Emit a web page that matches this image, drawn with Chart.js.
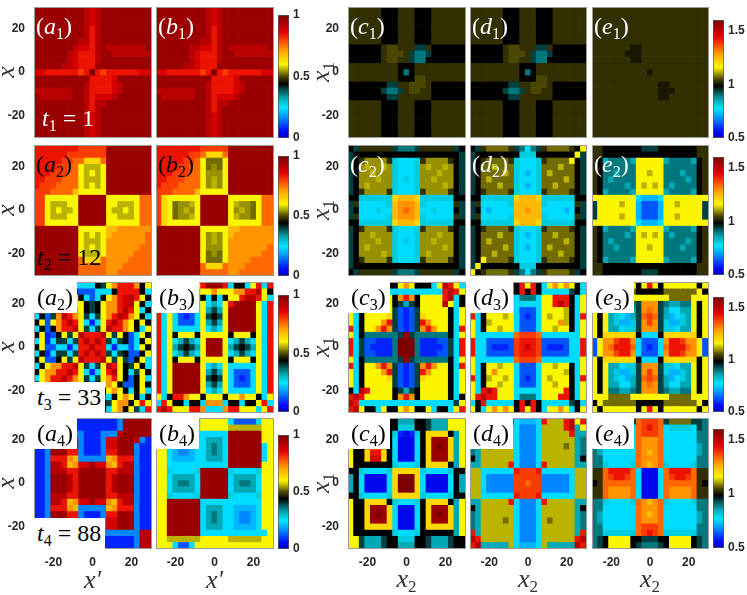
<!DOCTYPE html>
<html>
<head>
<meta charset="utf-8">
<title>Density panels</title>
<script src="https://cdn.jsdelivr.net/npm/chart.js@4.4.1/dist/chart.umd.min.js"></script>
<style>
  body { margin: 0; background: #fff; }
  #fig { position: relative; width: 747px; height: 595px; overflow: hidden; }
  #fig canvas { position: absolute; }
  .frame { position: absolute; border: 1px solid #9b9b9b; box-sizing: border-box; }
  .tag { position: absolute; font-family: "Liberation Serif", "DejaVu Serif", serif; font-size: 24px; line-height: 27px; white-space: nowrap; }
  .tag i { font-style: italic; }
  .tag sub { font-size: 16px; vertical-align: -5px; line-height: 0; }
  .boxed { background: #fff; padding: 2px 4px 2px 3px; }
  .ttl { position: absolute; font-family: "Liberation Serif", "DejaVu Serif", serif; font-style: italic; font-size: 26px; color: #333; white-space: nowrap; transform: translate(-50%, -50%); }
  .ttl.rot { transform: translate(-50%, -50%) rotate(-90deg); }
  .ttl sub { font-size: 17px; font-style: normal; vertical-align: -5px; line-height: 0; }
</style>
</head>
<body>
<div id="fig"></div>
<script>
// colour bar ranges and ticks
const leftRange = [0, 1];
const rightRange = [0.5, 1.6];
const leftBarTicks = [0, 0.5, 1];
const rightBarTicks = [0.5, 1, 1.5];
const axisTicks = [-20, 0, 20];
const xSpan = [-30, 30];

// one string per grid row (top row first), one letter per cell:
// 'a' = bottom of the colour range ... 'z' = top, capital = half a step above; '|' only groups columns
const a1 = [
  "yyyyyyyyyxwxyyyyyyyyy", "yyyyyyyyyxwxyyyyyyyyy", "yyyyyyyyyxwxyyyyyyyyy", "yyyyyyyyyxvxyyyyyyyyy",
  "yyyyyyyyyxvxyyyyyyyyy", "yyyyyyyyxxvxyyyyyyyyy", "yyyyyyyxwwvxyxxxxxxxy", "yyyyyyxwvvvxyyxxxxxxx",
  "yyyyyyxwvvvxyyyyyyyyy", "yyyyyxxwvvvyyyyyyyyyy", "wwvvvvvvuvzvuvvvvvvww", "yyyyyyyyyyvvvvwyyyyyy",
  "yyyyyyyyyxvvvvwxyyyyy", "xxxxxxxyyxvvvvwxyyyyy", "yxxxxxxyyxvwwwxyyyyyy", "yyyyyyyyyxvxxyyyyyyyy",
  "yyyyyyyyyxvxyyyyyyyyy", "yyyyyyyyyxwxyyyyyyyyy", "yyyyyyyyyxwxyyyyyyyyy", "yyyyyyyyyxwxyyyyyyyyy",
  "yyyyyyyyyxwxyyyyyyyyy"
];
const b1 = [
  "yyyyyyyyyxwxyyyyyyyyy", "yyyyyyyyyxwxyyyyyyyyy", "yyyyyyyyyxwxyyyyyyyyy", "yyyyyyyyyxvxyyyyyyyyy",
  "yyyyyyyyyxvxyyyyyyyyy", "yyyyyyyyxxvxyyyyyyyyy", "yyyyyyxxwwvxyxxxxxxxy", "yyyyyyxwvvvxyyxxxxxxx",
  "yyyyyyxwvvvxyyyyyyyyy", "yyyyyxxwvvvyyyyyyyyyy", "wwvvvvvvuvzvuvvvvvvww", "yyyyyyyyyyvvvvwyyyyyy",
  "yyyyyyyyyxvvvvwxyyyyy", "xxxxxxxyyxvvvvwxyyyyy", "yxxxxxxyyxvwwwxyyyyyy", "yyyyyyyyyxvxxyyyyyyyy",
  "yyyyyyyyyxvxyyyyyyyyy", "yyyyyyyyyxwxyyyyyyyyy", "yyyyyyyyyxwxyyyyyyyyy", "yyyyyyyyyxwxyyyyyyyyy",
  "yyyyyyyyyxwxyyyyyyyyy"
];
const c1 = [
  "mmmmmmlllmmmlllmmmmmm", "mmmmmmlllmmmlllmmmmmm", "mmmmmmlllmmmlllmmmmmm", "mmmmmmlllmmmlllmmmmmm",
  "mmmmmmlllmmmlllmmmmmm", "mmmmmmlllmmmlllmmmmmm", "llllllmMMmmmkkmllllll", "llllllmMMMmkjjkllllll",
  "llllllmMMmmkjjlllllll", "mmmmmmmmmlllmmmmmmmmm", "mmmmmmmmmljlmmmmmmmmm", "mmmmmmmmmlllMMmmmmmmm",
  "lllllllkkmmMMMmllllll", "llllllkjjkmMMmmllllll", "lllllllkkmmmmmmllllll", "mmmmmmlllmmmlllmmmmmm",
  "mmmmmmlllmmmlllmmmmmm", "mmmmmmlllmmmlllmmmmmm", "mmmmmmlllmmmlllmmmmmm", "mmmmmmlllmmmlllmmmmmm",
  "mmmmmmlllmmmlllmmmmmm"
];
const d1 = [
  "mmmmmmlllmmmlllmmmmmm", "mmmmmmlllmmmlllmmmmmm", "mmmmmmlllmmmlllmmmmmm", "mmmmmmlllmmmlllmmmmmm",
  "mmmmmmlllmmmlllmmmmmm", "mmmmmmlllmmmlllmmmmmm", "llllllmMMmmmkkmllllll", "llllllmMMMmkjjkllllll",
  "llllllmMMmmkjjlllllll", "mmmmmmmmmlllmmmmmmmmm", "mmmmmmmmmljlmmmmmmmmm", "mmmmmmmmmlllMMmmmmmmm",
  "lllllllkkmmMMMmllllll", "llllllkjjkmMMmmllllll", "lllllllkkmmmmmmllllll", "mmmmmmlllmmmlllmmmmmm",
  "mmmmmmlllmmmlllmmmmmm", "mmmmmmlllmmmlllmmmmmm", "mmmmmmlllmmmlllmmmmmm", "mmmmmmlllmmmlllmmmmmm",
  "mmmmmmlllmmmlllmmmmmm"
];
const e1 = [
  "mmmmmmmmmmmmmmmmmmmmm", "mmmmmmmmmmmmmmmmmmmmm", "mmmmmmmmmmmmmmmmmmmmm", "mmmmmmmmmmmmmmmmmmmmm",
  "mmmmmmmmmmmmmmmmmmmmm", "mmmmmmmmmmmmmmmmmmmmm", "mmmmmmmLLmmmmmmmmmmmm", "mmmmmmLLLmmmmmmmmmmmm",
  "mmmmmmmLLmmmmmmmmmmmm", "mmmmmmmmmmmmmmmmmmmmm", "mmmmmmmmmmLmmmmmmmmmm", "mmmmmmmmmmmmmmmmmmmmm",
  "mmmmmmmmmmmmLLmmmmmmm", "mmmmmmmmmmmmLLLmmmmmm", "mmmmmmmmmmmmLLmmmmmmm", "mmmmmmmmmmmmmmmmmmmmm",
  "mmmmmmmmmmmmmmmmmmmmm", "mmmmmmmmmmmmmmmmmmmmm", "mmmmmmmmmmmmmmmmmmmmm", "mmmmmmmmmmmmmmmmmmmmm",
  "mmmmmmmmmmmmmmmmmmmmm"
];

const a2 = [
  "vvvvvvvv|uuuuu|yyyyyyyy", "vvvvvvuu|uuuuu|yyyyyyyy", "vvvvvuut|tqqqt|yyyyyyyy", "vvvvuutt|pooop|yyyyyyyy",
  "vvvuuutt|popop|yyyyyyyy", "vvuuuttt|pooop|yyyyyyyy", "vuuutttt|popop|yyyyyyyy", "uuuttttr|ppppp|yyyyyyyy",
  "uu|pppppp|yyyyy|pppppp|tt", "uu|pooopp|yyyyy|ppooop|tt", "uu|popoop|yyyyy|poopop|tt", "uu|pooopp|yyyyy|ppooop|tt",
  "uu|pppppp|yyyyy|pppppp|tt", "yyyyyyyy|ppppp|rrssssss", "yyyyyyyy|popop|rsssssst", "yyyyyyyy|pooop|ssssssst",
  "yyyyyyyy|popop|sssssstt", "yyyyyyyy|pooop|sssssttt", "yyyyyyyy|tqqqt|sssstttt", "yyyyyyyy|ttttt|sssttttt",
  "yyyyyyyy|ttttt|sstttttt"
];
const b2 = [
  "vvvvvvvv|uuuuu|yyyyyyyy", "vvvvvvuu|tqqqt|yyyyyyyy", "vvvvvuut|pnnnp|yyyyyyyy", "vvvvuutt|pnNnp|yyyyyyyy",
  "vvvuuutt|pNNNp|yyyyyyyy", "vvuuuttt|pNoNp|yyyyyyyy", "vuuutttt|pNoNp|yyyyyyyy", "uuuttttr|ppppp|yyyyyyyy",
  "uq|pppppp|yyyyy|pppppp|tt", "uq|pnNNop|yyyyy|poNNnp|tt", "uq|pnNoNp|yyyyy|pNoNnp|tt", "uq|pnNNop|yyyyy|poNNnp|tt",
  "uq|pppppp|yyyyy|pppppp|tt", "yyyyyyyy|ppppp|rrssssss", "yyyyyyyy|pNoNp|rsssssss", "yyyyyyyy|pNoNp|ssssssss",
  "yyyyyyyy|pNNNp|ssssssst", "yyyyyyyy|pnNnp|sssssstt", "yyyyyyyy|pnnnp|sssstttt", "yyyyyyyy|tqqqt|sssttttt",
  "yyyyyyyy|ttttt|sstttttt"
];
const c2 = [
  "lk|mmmmmm|kjjjk|mmmmmm|kl", "kl|llllll|lllll|llllll|lk", "kl|mNNNNm|hgggh|mNNNNm|lk", "kl|NoNNoN|hgggh|NoNNoN|lk",
  "kl|NNoNNN|hgggh|NNNoNN|lk", "kl|NNNoNN|hghgh|NNoNNN|lk", "kl|NoNNNN|hgggh|NNNNoN|lk", "kl|mNNNNm|hgggh|mNNNNm|lk",
  "ll|hhhhhh|qrrrq|hhhhhh|ll", "km|gggggh|rsssr|hggggg|mk", "kl|ggghgg|rstsr|gghggg|lk", "km|gggggh|rsssr|hggggg|mk",
  "ll|hhhhhh|qrrrq|hhhhhh|ll", "kl|mNNNNm|hgggh|mNNNNm|lk", "kl|NNoNNN|hgggh|NNNoNN|lk", "kl|NNNoNN|hghgh|NNoNNN|lk",
  "kl|NoNNNN|hgggh|NNNNoN|lk", "kl|NNNNoN|hgggh|NoNNNN|lk", "kl|mNNNNm|hgggh|mNNNNm|lk", "kl|llllll|lllll|llllll|lk",
  "lk|mmmmmm|kjjjk|mmmmmm|kl"
];
const d2 = [
  "lk|mnnnnm|kjgjk|mnnnnm|lp", "kl|llllll|lhhhl|llllll|pk", "kl|mnnnnm|hgggh|mnnnnp|lk", "kl|nnonnn|hgggh|nnnonn|lk",
  "kl|nnnnon|hgfgh|nonnnn|lk", "kl|nonnnn|hgggh|nnnnon|lk", "kl|nnnonn|hgfgh|nnonnn|lk", "kl|mnnnnm|hgggh|mnnnnm|lk",
  "ll|hhhhhh|qrrrq|hhhhhh|ll", "km|gggggh|rrrrr|hggggg|mk", "kl|gfgggg|rrsrr|ggggfg|lk", "km|gggggh|rrrrr|hggggg|mk",
  "ll|hhhhhh|qrrrq|hhhhhh|ll", "kl|mnnnnm|hgggh|mnnnnm|lk", "kl|nnnonn|hgfgh|nnonnn|lk", "kl|nonnnn|hgggh|nnnnon|lk",
  "kl|nnnnon|hgfgh|nonnnn|lk", "kl|nnonnn|hgggh|nnnonn|lk", "kl|pnnnnm|hgggh|mnnnnm|lk", "kp|llllll|lhhhl|llllll|lk",
  "pl|mnnnnm|kjgjk|mnnnnm|kl"
];
const e2 = [
  "mm|llllll|lkkkl|llllll|mm", "mm|llllll|lllll|llllll|mm", "ml|ijjjji|ppppp|ijjjji|lm", "ml|jjjjjj|ppppp|jjjjjj|lm",
  "ml|jjijjj|ppopp|jjjijj|lm", "ml|jijjjj|ppppp|jjjjij|lm", "ml|jjjjij|popop|jijjjj|lm", "ml|ijjjji|ppppp|ijjjji|lm",
  "pp|pppppp|gfffg|pppppp|pp", "kp|pppopp|fdddf|ppoppp|pk", "kp|pppppp|fdddf|pppppp|pk", "kp|pppopp|fdddf|ppoppp|pk",
  "pp|pppppp|gfffg|pppppp|pp", "ml|ijjjji|ppppp|ijjjji|lm", "ml|jjjjij|popop|jijjjj|lm", "ml|jijjjj|ppppp|jjjjij|lm",
  "ml|jjijjj|ppopp|jjjijj|lm", "ml|jjjjjj|ppppp|jjjjjj|lm", "ml|ijjjji|ppppp|ijjjji|lm", "mm|llllll|lllll|llllll|mm",
  "mm|llllll|lkkkl|llllll|mm"
];

const a3 = [
  "pslgggggggglkpsvvvslp", "plgddcccdddggglvvvvlg", "lpdglpsplgdglpsvwxvpl", "gpdxvsspplklpssvwxplg",
  "lpgvxvssplklpssvxvpgl", "gldksxvspkgkpsvxwsplg", "lpdpsvxvpgcgpvxvsplpl", "gldlsvvxpkgkpxvvsplgp",
  "lpcdlpkpxvvvxpkpldgpl", "gpcgkkgkvxvxvkgkldglp", "lpddggcgvvxvvgcggdgpl", "glcgkkgkvxvxvkgklddlp",
  "lpddlpkpxvvvxpkpkdlpg", "glpssvvxpkgkpxvplkplg", "lpssvvxvpgcgpvxplgkpl", "gpsvvxvspkgkpsvpldlpg",
  "lpsvxvsspldlpsplddlpl", "gpvxvssplgdglpsplglpg", "lpxvplgddccddglpsplgl", "pvsplgggllgglkpsslpvp",
  "vpslpvsplgsplgpslpkgv"
];
const b3 = [
  "vgp|ppssp|vyyyv|gllgp|vgv", "lpg|gglgg|ppspp|pssvv|xpl", "vlp|sppps|lglgl|ppvxx|vpg", "vgp|ggggg|pgigp|vyyyy|pgv",
  "vgp|gdddg|pikip|yyyyy|pgv", "vgp|gdcdg|pklkp|yyyyy|pgv", "vgp|gdddg|pikip|yyyyy|pgv", "vgp|ggggg|pgigp|yyyyy|pgv",
  "vgp|lpppl|ppppp|lpppl|pgv", "vgp|gikig|pyyyp|gikig|pgv", "vgp|iklki|pyyyp|iklki|pgv", "vgp|gikig|pyyyp|gikig|pgv",
  "vgp|lpppl|ppppp|lpppl|pgv", "vgp|yyyyy|pgigp|ggggg|pgv", "vgp|yyyyy|pikip|gdddg|pgv", "vgp|yyyyy|pklkp|gdcdg|pgv",
  "vgp|yyyyy|pikip|gdddg|pgv", "vgp|yyyyy|pgigp|ggggg|pgv", "pgl|vvspp|lpppl|ppspp|lgp", "gvp|llgll|gsssg|llgll|pvg",
  "vxv|pppvv|sgggs|vvppp|gpv"
];
const c3 = [
  "vp|lgpgll|lpspl|llgpxv|pg", "pk|gggggg|ggggg|ggggvx|vp", "lg|lppppp|lsvsl|ppppvx|gl", "pg|lppppp|lkikl|ppppxp|gl",
  "pg|lppppp|kdcdk|pppppl|gp", "pg|lppppq|kdcdk|qppppl|gp", "pg|lpppsv|kdcdk|vspppl|gp", "vg|lppsvs|kdcdk|svsppl|gv",
  "pg|ljjjjj|jkykj|jjjjjl|gp", "vg|kddccc|jzzzj|cccddk|gv", "vg|kdcccc|jzzzj|ccccdk|gv", "vg|kddccc|jzzzj|cccddk|gv",
  "pg|ljjjjj|jkykj|jjjjjl|gp", "vg|lppsvs|kdcdk|svsppl|gv", "pg|lpppsv|kdcdk|vspppl|gp", "pg|lppppq|kdcdk|qppppl|gp",
  "pg|lppppp|kdcdk|pppppl|gp", "lg|xvpppp|lkikl|pppppl|gp", "vx|vppppp|lsvsl|pppppl|gl", "xv|gggggg|ggggg|gggggg|kp",
  "vx|pllgpl|lpspl|lpgllg|pv"
];
const d3 = [
  "pl|gppspg|lvpvl|gpspsp|lg", "gl|kggggg|lvlvl|gggggk|lg", "pg|lppppp|gjjjg|ppvvvl|gp", "pg|loppop|ggggg|ppvxvl|gp",
  "pg|lpoopp|gdddg|ppppol|gp", "vg|lpppop|gdcdg|poppol|gv", "pg|lopppp|gdddg|pppsol|gp", "pg|lppopp|gdddg|ppoppl|gp",
  "pg|gggggg|tuuut|gggggg|gp", "vg|gddddd|uvvvu|dddddg|gv", "vg|gdcccd|uvwvu|dcccdg|gv", "vg|gddddd|uvvvu|dddddg|gv",
  "pg|gggggg|tuuut|gggggg|gp", "pg|lppopp|gdddg|ppoppl|gp", "pg|lpsppp|gdddg|ppppol|gp", "vg|loppop|gdcdg|popppl|gv",
  "pg|lppopp|gdddg|ppoppl|gp", "pg|vxvppp|ggggg|ppppvl|gp", "pv|xvvppp|gjjjg|pppvvl|gp", "gl|vggggg|lvlvl|gggggk|lg",
  "pl|gpspsp|lvpvl|gppspg|lp"
];
const e3 = [
  "pl|pppppp|lpvpl|pppppp|lp", "lp|nnnnnn|lllll|nnnnnn|pl", "pp|pnnnnp|ppppp|pnnnnp|pp", "pl|pjjiij|ksssk|jiijjp|lp",
  "pl|piiggi|kstsk|iggiip|lp", "pl|pihgfi|ktutk|ifghip|lp", "pl|pihffh|ksusk|hffhip|lp", "pl|piighh|ksssk|hhgiip|lp",
  "pl|qqqqqq|lgggl|qqqqqq|lp", "dp|ssuvvs|gdddg|svvuss|pd", "dp|stvvvt|gdcdg|tvvvts|pd", "dp|ssuvvs|gdddg|svvuss|pd",
  "pl|qqqqqq|lgggl|qqqqqq|lp", "pl|piighh|ksssk|hhgiip|lp", "pl|pihffh|ksusk|hffhip|lp", "pl|pihgfi|ktutk|ifghip|lp",
  "pl|piiggi|kstsk|iggiip|lp", "pl|pjjiij|ksssk|jiijjp|lp", "pp|pnnnnp|ppppp|pnnnnp|pp", "lp|nnnnnn|lllll|nnnnnn|pl",
  "pl|pppppp|lpvpl|pppppp|lp"
];

const a4 = [
  "ccccccccccccccc|e|yyyyy", "ccccccccccccccc|e|yyyyy", "cc|eeeeeee|ccc|eee|x|yyyyy", "cce|yyyww|e|ccc|e|wwyyy|xec",
  "cce|yyyww|e|ccc|e|wwyyy|ecc", "cce|yyyvv|e|ccc|e|vvyyy|ecc", "cce|vvvsr|e|eee|e|rsvvv|ecc", "cce|xxvrs|wwyww|srvxx|ecc",
  "cce|xxxvv|yyyyy|vvxxx|ecc", "cce|yyyxv|yyyyy|vxyyy|ecc", "cce|yyyxv|yyyyy|vxyyy|ecc", "cce|yyyxv|yyyyy|vxyyy|ecc",
  "cce|xxxvv|yyyyy|vvxxx|ecc", "cce|xxvrs|wwyww|srvxx|ecc", "cce|vvvsr|e|eee|e|rsvvv|ecc", "cce|yyyvv|e|ccc|e|vvyyy|ecc",
  "cce|yyyww|e|ccc|e|wwyyy|ecc", "cce|yyyww|e|ccc|e|wwyyy|ecc", "cc|eeeeeee|ccc|eeeeee|e|xx", "cccccccccccccccccc|e|xx",
  "cccccccccccccccccc|e|xx"
];
const b4 = [
  "pp|gddddg|ppppp|gddddg|pp", "pp|oooooo|ppppp|oooooo|pp", "pp|gggggg|ggggg|yyyyyy|pp", "pp|gffffg|giiig|yyyyyy|pp",
  "pp|gfeefg|gijig|yyyyyy|gp", "pp|gfeefg|gijig|yyyyyy|gp", "pp|gffffg|giiig|yyyyyy|gp", "pp|gggggg|ggggg|yyyyyy|pp",
  "pp|hggggh|yyyyy|hggggh|pp", "pp|giiiig|yyyyy|giiiig|pp", "pp|gijjig|yyyyy|gijjig|pp", "pp|giiiig|yyyyy|giiiig|pp",
  "pp|hggggh|yyyyy|hggggh|pp", "pp|yyyyyy|ggggg|gggggg|pp", "pp|yyyyyy|giiig|gffffg|pp", "pp|yyyyyy|gijig|gfeefg|pp",
  "pp|yyyyyy|gijig|gfeefg|pp", "pp|yyyyyy|giiig|gffffg|pp", "pp|yyyyyy|ggggg|gggggg|gp", "pp|oooooo|ppppp|oooooo|pp",
  "pp|pgddgp|ppppp|pppppp|pp"
];
const c4 = [
  "ll|kiiikl|liiil|lkiiip|pp", "pl|kiiikl|lhhhl|lkiiip|pp", "pl|lkiikl|hcbch|lqqqql|ip", "pl|lkiikl|gbbbg|lqyyyq|ip",
  "pl|lkppkl|gbbbg|lqyzyq|ip", "pl|lqvvql|gbbbg|lqyyyq|ip", "pl|lqwwql|gbbbg|lqyyyq|ip", "pl|llllll|hgggh|lqqqql|ip",
  "ll|hggggh|qqqqq|hggggh|ll", "il|gbbbbg|qzzzq|gbbbbg|li", "il|gbbbbg|qzzzq|gbbbbg|li", "il|gbbbbg|qzzzq|gbbbbg|li",
  "ll|hggggh|qqqqq|hggggh|ll", "pl|lqqqql|hgggh|lqqqql|ip", "pl|lqyyyq|gbbbg|lqyyyq|ip", "pl|lqyzyq|gbbbg|lqyzyq|ip",
  "pl|lqyyyq|gbbbg|lqyyyq|ip", "pl|lqqqqq|gbbbg|lqqqqq|ip", "pl|llllll|hgggh|llllll|ip", "pp|kiiikl|lhhhl|lkiiik|ll",
  "pp|kiiikl|liiil|lkiiik|ll"
];
const d4 = [
  "ii|ooooov|gfffg|vooovx|pv", "ii|oooooo|geeeg|oooovx|ip", "ii|oooooo|geeeg|ooooov|ii", "ji|oooooo|geeeg|oooooo|ij",
  "ji|onoooo|geeeg|oooono|ij", "ji|oooooo|geeeg|oooooo|ij", "li|oooooo|geeeg|oooooo|il", "ii|ooooov|geeeg|vooooo|ii",
  "oo|gggggg|vuuuv|gggggg|oo", "oo|geeeee|uuuuu|eeeeeg|oo", "oo|geeeee|uutuu|eeeeeg|oo", "oo|geeeee|uuuuu|eeeeeg|oo",
  "oo|gggggg|vuuuv|gggggg|oo", "ii|ooooov|geeeg|vooooo|ii", "li|oooooo|geeeg|oooooo|il", "ji|oooooo|geeeg|oooooo|ij",
  "ji|oooono|geeeg|onoooo|ij", "ji|oooooo|geeeg|oooooo|ij", "vi|oooooo|geeeg|oooooo|iv", "xv|oooooo|geeeg|oooooo|vx",
  "vx|iiiiio|gfffg|oiiiii|xv"
];
const e4 = [
  "jk|knnnnk|tuuut|knnnnk|kj", "jk|ghhhhg|tuvut|ghhhhg|kj", "jj|gggggg|tuuut|gggggg|jj", "jj|gggggg|tssst|gggggg|jj",
  "ji|gggggg|tssst|gggggg|ij", "ji|gggggg|tsrst|gggggg|ij", "jj|gggggg|tssst|gggggg|jj", "jj|hggggh|tsrst|hggggh|jj",
  "mm|tvvvvt|gbbbg|tvvvvt|mm", "mm|tuvvut|gbbbg|tuvvut|mm", "lm|tttttt|gbbbg|tttttt|ml", "mm|tsssst|gbbbg|tsssst|mm",
  "mm|tsssst|gbbbg|tsssst|mm", "jj|hggggh|tsrst|hggggh|jj", "jj|gggggg|tssst|gggggg|jj", "ji|gggggg|tsrst|gggggg|ij",
  "ji|gggggg|tssst|gggggg|ij", "jj|gggggg|tuuut|gggggg|jj", "jj|hhhhhh|tuvut|hhhhhh|jj", "jk|lppppl|lkkkl|lppppl|kj",
  "jk|lppppl|kjjjk|lppppl|kj"
];

const grids = [
  [a1, b1, c1, d1, e1],
  [a2, b2, c2, d2, e2],
  [a3, b3, c3, d3, e3],
  [a4, b4, c4, d4, e4]
];
const panelTags = [
  ['a1', 'b1', 'c1', 'd1', 'e1'],
  ['a2', 'b2', 'c2', 'd2', 'e2'],
  ['a2', 'b3', 'c3', 'd3', 'e3'],
  ['a4', 'b4', 'c4', 'd4', 'e4']
];
const timeTags = [['1', '1'], ['2', '12'], ['3', '33'], ['4', '88']];

// page geometry
const colEdges = [[34, 151], [156, 273], [348, 465], [470, 586], [592, 708]];
const rowEdges = [[7, 137], [145, 275], [282, 412], [418, 548]];
const leftBars = [[278, 15, 289, 138], [278, 156, 289, 276], [278, 295, 289, 412], [278, 435, 289, 549]];
const rightBars = [[713, 20, 724, 138], [713, 157, 724, 275], [713, 297, 724, 412], [713, 429, 724, 548]];

const cmapStops = [
  [0.00, [0, 0, 200]], [0.06, [0, 10, 255]], [0.12, [0, 85, 255]], [0.19, [0, 170, 255]],
  [0.25, [0, 230, 255]], [0.33, [0, 160, 170]], [0.39, [0, 80, 80]], [0.44, [0, 0, 0]],
  [0.50, [75, 70, 0]], [0.55, [170, 162, 0]], [0.60, [252, 245, 0]], [0.70, [255, 170, 0]],
  [0.78, [255, 80, 0]], [0.86, [230, 0, 0]], [1.00, [125, 0, 0]]
];

function cmap(t) {
  t = Math.min(1, Math.max(0, t));
  for (let i = 1; i < cmapStops.length; i++) {
    const [t0, c0] = cmapStops[i - 1];
    const [t1, c1] = cmapStops[i];
    if (t <= t1) {
      const f = (t - t0) / (t1 - t0);
      return 'rgb(' + c0.map((v, k) => Math.round(v + f * (c1[k] - v))).join(',') + ')';
    }
  }
  return 'rgb(125,0,0)';
}

function cellLevel(ch) {
  const code = ch.charCodeAt(0);
  if (code >= 97) return (code - 97) / 25;
  return (code - 65 + 0.5) / 25;
}

function readGrid(rows, range) {
  return rows.map(line => {
    let s = line.replace(/\|/g, '');
    while (s.length < 21) s += s[s.length - 1];
    return s.slice(0, 21).split('').map(ch => range[0] + cellLevel(ch) * (range[1] - range[0]));
  });
}

const fig = document.getElementById('fig');
const tickFont = { family: 'Liberation Sans, Arial, sans-serif', size: 12, weight: 'bold' };

function addCanvas(left, top, w, h) {
  const cv = document.createElement('canvas');
  cv.width = w;
  cv.height = h;
  cv.style.left = left + 'px';
  cv.style.top = top + 'px';
  cv.style.width = w + 'px';
  cv.style.height = h + 'px';
  fig.appendChild(cv);
  return cv;
}

function fixSize(prop, size) {
  return s => {
    s[prop] = size;
    s.paddingTop = 0; s.paddingBottom = 0; s.paddingLeft = 0; s.paddingRight = 0;
  };
}

function drawPanel(grid, range, box, showY, showX) {
  const [L, T, R, B] = box;
  const padL = 46, padB = 26, padT = 2, padR = 2;
  const cv = addCanvas(L - padL, T - padT, R - L + padL + padR, B - T + padT + padB);
  const values = readGrid(grid, range);
  const nRow = values.length;
  const nCol = values[0].length;
  const dy = (xSpan[1] - xSpan[0]) / nRow;
  const dx = (xSpan[1] - xSpan[0]) / nCol;

  const datasets = values.map((row, i) => ({
    data: row.map((v, j) => ({
      x: xSpan[0] + (j + 0.5) * dx,
      y: [xSpan[1] - (i + 1) * dy, xSpan[1] - i * dy]
    })),
    backgroundColor: row.map(v => cmap((v - range[0]) / (range[1] - range[0]))),
    borderWidth: 0,
    grouped: false,
    barPercentage: 1,
    categoryPercentage: 1
  }));

  new Chart(cv, {
    type: 'bar',
    data: { datasets },
    options: {
      responsive: false,
      animation: false,
      events: [],
      layout: { padding: { top: padT, right: padR, left: 0, bottom: 0 } },
      plugins: { legend: { display: false }, tooltip: { enabled: false } },
      scales: {
        x: {
          type: 'linear', min: xSpan[0], max: xSpan[1], offset: false,
          grid: { display: false, drawTicks: false }, border: { display: false },
          afterBuildTicks: s => { s.ticks = axisTicks.map(v => ({ value: v })); },
          afterFit: fixSize('height', padB),
          ticks: { display: showX, padding: 7, color: '#262626', font: tickFont, maxRotation: 0, autoSkip: false, callback: v => String(v) }
        },
        y: {
          type: 'linear', min: xSpan[0], max: xSpan[1],
          grid: { display: false, drawTicks: false }, border: { display: false },
          afterBuildTicks: s => { s.ticks = axisTicks.map(v => ({ value: v })); },
          afterFit: fixSize('width', padL),
          ticks: { display: showY, padding: 9, color: '#262626', font: tickFont, autoSkip: false, callback: v => String(v) }
        }
      }
    }
  });

  const fr = document.createElement('div');
  fr.className = 'frame';
  fr.style.left = L + 'px';
  fr.style.top = T + 'px';
  fr.style.width = (R - L + 1) + 'px';
  fr.style.height = (B - T + 1) + 'px';
  fig.appendChild(fr);
}

function barGradient(chart) {
  const a = chart.chartArea;
  if (!a) return 'rgba(0,0,0,0)';
  const g = chart.ctx.createLinearGradient(0, a.bottom, 0, a.top);
  cmapStops.forEach(([t, c]) => g.addColorStop(t, 'rgb(' + c.join(',') + ')'));
  return g;
}

function drawColorBar(range, ticks, box) {
  const [L, T, R, B] = box;
  const padV = 9, padR = 36;
  const cv = addCanvas(L, T - padV, R - L + padR, B - T + 2 * padV);
  new Chart(cv, {
    type: 'bar',
    data: {
      labels: [''],
      datasets: [{
        data: [range],
        backgroundColor: c => barGradient(c.chart),
        borderColor: '#555',
        borderWidth: 1,
        borderSkipped: false,
        barPercentage: 1,
        categoryPercentage: 1
      }]
    },
    options: {
      responsive: false,
      animation: false,
      events: [],
      layout: { padding: { top: padV, bottom: padV, left: 0, right: 0 } },
      plugins: { legend: { display: false }, tooltip: { enabled: false } },
      scales: {
        x: { display: false },
        y: {
          position: 'right', min: range[0], max: range[1],
          grid: { display: false, drawTicks: false }, border: { display: false },
          afterBuildTicks: s => { s.ticks = ticks.map(v => ({ value: v })); },
          afterFit: fixSize('width', padR),
          ticks: { padding: 4, color: '#262626', font: tickFont, callback: v => String(v) }
        }
      }
    }
  });
}

function addText(html, cls, left, top, color) {
  const d = document.createElement('div');
  d.className = cls;
  d.innerHTML = html;
  d.style.left = left + 'px';
  d.style.top = top + 'px';
  if (color) d.style.color = color;
  fig.appendChild(d);
  return d;
}

// heat maps
grids.forEach((rowGrids, r) => {
  rowGrids.forEach((grid, c) => {
    const range = c < 2 ? leftRange : rightRange;
    const box = [colEdges[c][0], rowEdges[r][0], colEdges[c][1], rowEdges[r][1]];
    drawPanel(grid, range, box, c === 0 || c === 2, r === 3);
  });
  drawColorBar(leftRange, leftBarTicks, leftBars[r]);
  drawColorBar(rightRange, rightBarTicks, rightBars[r]);
});

// panel tags and times
panelTags.forEach((tags, r) => {
  tags.forEach((tag, c) => {
    const html = '(<i>' + tag[0] + '</i><sub>' + tag.slice(1) + '</sub>)';
    const L = colEdges[c][0], T = rowEdges[r][0];
    if (r >= 2) {
      addText(html, 'tag boxed', L, T, '#000');
    } else {
      const col = (r === 1 && c < 2) ? '#000' : '#fff';
      addText(html, 'tag', L + 2, T + 6, col);
    }
  });
  const [sub, val] = timeTags[r];
  const th = '<i>t</i><sub>' + sub + '</sub> = ' + val;
  const L = colEdges[0][0], B = rowEdges[r][1];
  if (r === 0) addText(th, 'tag', L + 8, B - 32, '#fff');
  else if (r === 1) addText(th, 'tag', L + 3, B - 31, '#000');
  else addText(th, 'tag boxed', L, B - 30, '#000');
});

// axis titles
rowEdges.forEach(([T, B]) => {
  const mid = (T + B) / 2;
  addText('x', 'ttl rot', 6, mid);
  addText('x<sub>1</sub>', 'ttl rot', 321, mid);
});
[0, 1].forEach(c => addText('x\u2032', 'ttl', (colEdges[c][0] + colEdges[c][1]) / 2, 580));
[2, 3, 4].forEach(c => addText('x<sub>2</sub>', 'ttl', (colEdges[c][0] + colEdges[c][1]) / 2, 579));
</script>
</body>
</html>
